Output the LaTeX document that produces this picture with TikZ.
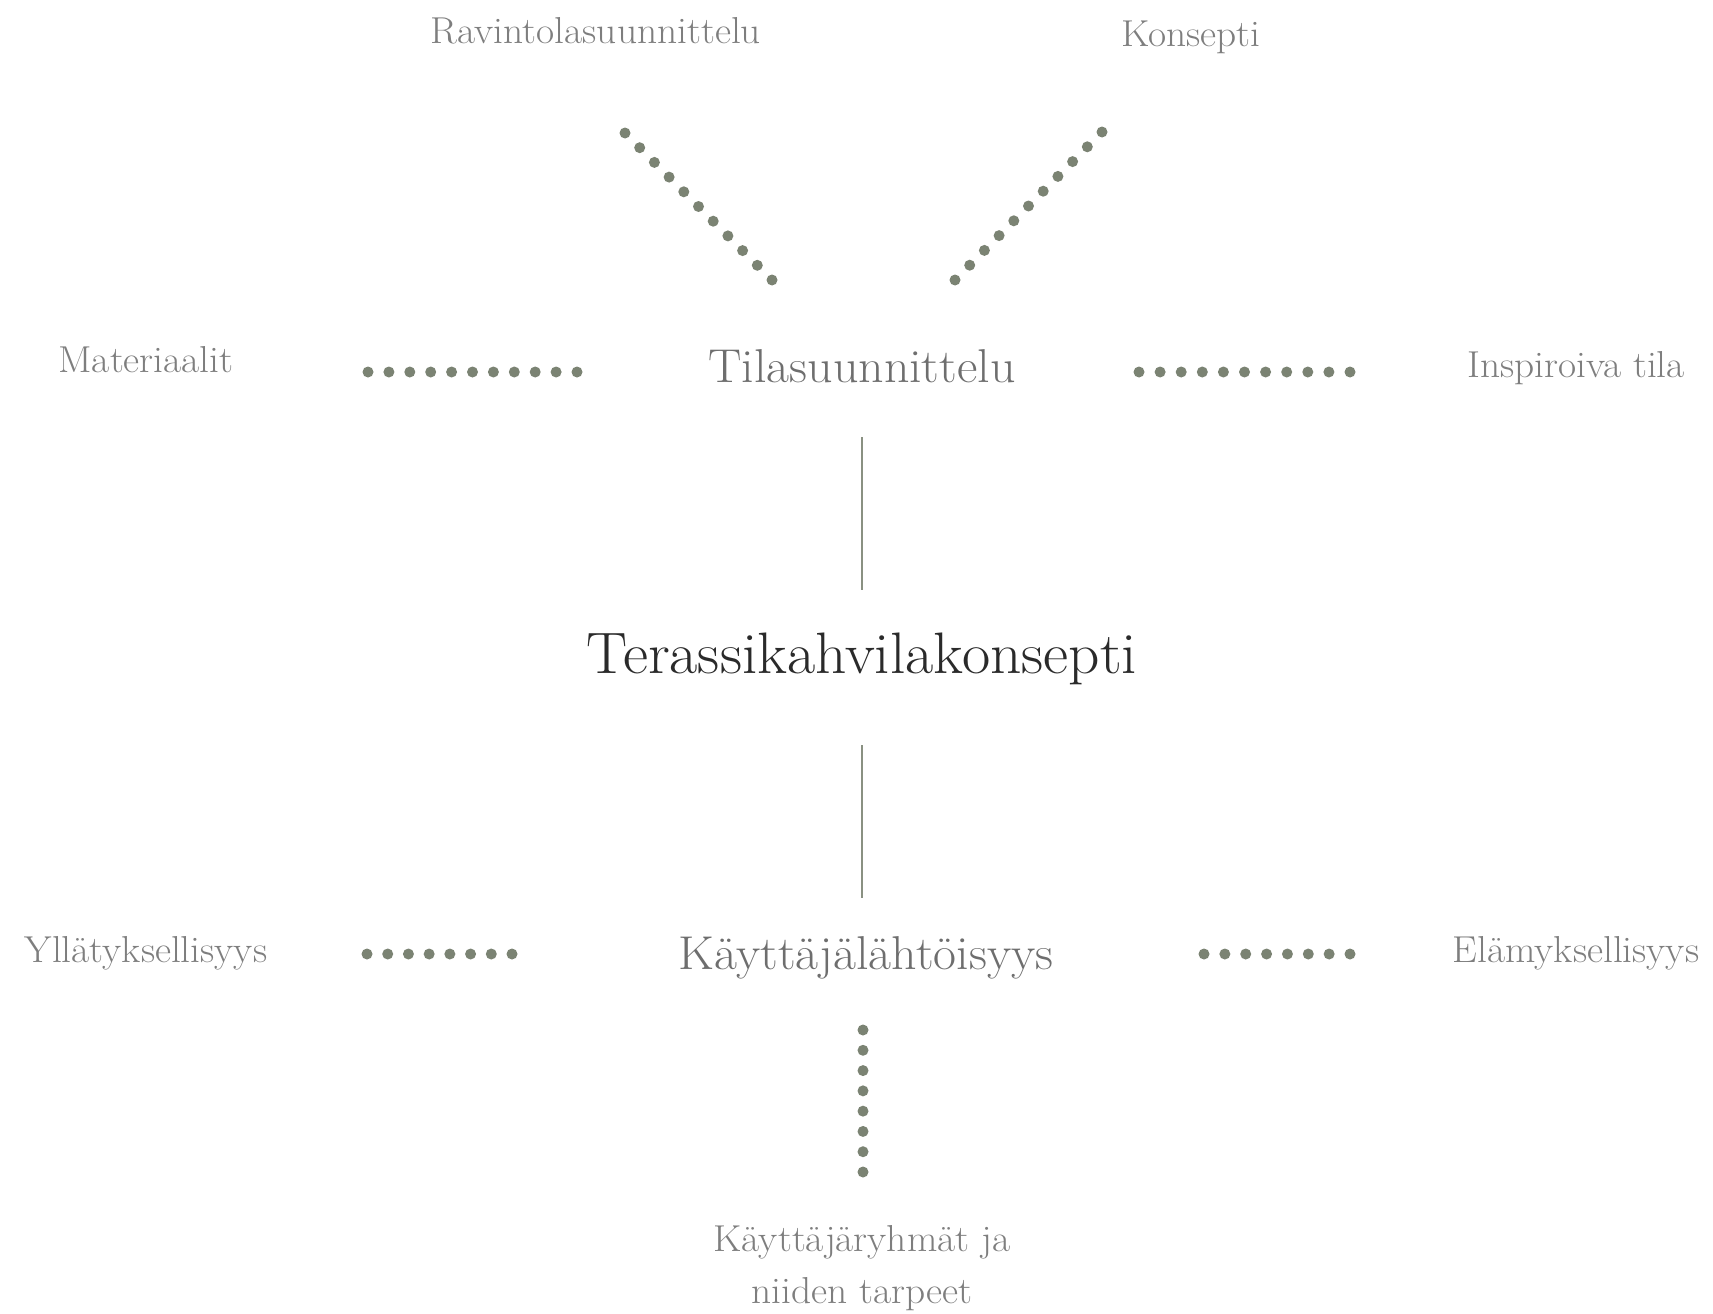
\documentclass[tikz,border=0pt]{standalone}
\usepackage{fontspec}
\setmainfont{Latin Modern Roman}[FakeStretch=1.05]
\usetikzlibrary{calc}
\definecolor{dotc}{HTML}{7B8373}
\definecolor{linec}{HTML}{8A9182}
\definecolor{labc}{HTML}{7E7E7E}
\definecolor{midc}{HTML}{6E6E6E}
\definecolor{mainc}{HTML}{2A2A2A}
\tikzset{
  lab/.style={text=labc, font=\fontsize{37.5}{44}\selectfont, inner sep=0pt, anchor=base},
  sub/.style={text=midc, font=\fontsize{47.5}{54}\selectfont, inner sep=0pt, anchor=base},
  main/.style={text=mainc, font=\fontsize{58.5}{66}\selectfont, inner sep=0pt, anchor=base},
  link/.style={draw=linec, line width=2pt},
}
\newcommand{\dotrow}[3]{%
  \foreach \k in {0,...,#3}{\fill[dotc] ($(#1)!\k/#3!(#2)$) circle (5.5pt);}}
\begin{document}
\begin{tikzpicture}[x=1pt,y=-1pt]
\useasboundingbox (0,0) rectangle (1713,1314);
% labels
\node[lab] (rav) at (596,44) {Ravintolasuunnittelu};
\node[lab] (kon) at (1191,47) {Konsepti};
\node[lab] (mat) at (146,372) {Materiaalit};
\node[lab] (ins) at (1576,377) {Inspiroiva tila};
\node[sub] (tila) at (862,382) {Tilasuunnittelu};
\node[main] (ter) at (862,673) {Terassikahvilakonsepti};
\node[sub] (kay) at (866,969) {Käyttäjälähtöisyys};
\node[lab] (yll) at (146,962) {Yllätyksellisyys};
\node[lab] (ela) at (1576,962) {Elämyksellisyys};
\node[lab] (kr1) at (862,1251) {Käyttäjäryhmät ja};
\node[lab] (kr2) at (862,1303) {niiden tarpeet};
% coordinates for connectors
\coordinate (d1a) at (625,133); \coordinate (d1b) at (772,280);
\coordinate (d2a) at (1102,132); \coordinate (d2b) at (955,280);
\coordinate (d3a) at (368,372); \coordinate (d3b) at (577,372);
\coordinate (d4a) at (1139,372); \coordinate (d4b) at (1350,372);
\coordinate (d5a) at (367,954); \coordinate (d5b) at (512,954);
\coordinate (d6a) at (1204,954); \coordinate (d6b) at (1350,954);
\coordinate (d7a) at (863,1030); \coordinate (d7b) at (863,1172);
\coordinate (l1a) at (862,437); \coordinate (l1b) at (862,590);
\coordinate (l2a) at (862,745); \coordinate (l2b) at (862,898);
% dotted connectors
\dotrow{d1a}{d1b}{10}
\dotrow{d2a}{d2b}{10}
\dotrow{d3a}{d3b}{10}
\dotrow{d4a}{d4b}{10}
\dotrow{d5a}{d5b}{7}
\dotrow{d6a}{d6b}{7}
\dotrow{d7a}{d7b}{7}
% solid connectors
\draw[link] (l1a) -- (l1b);
\draw[link] (l2a) -- (l2b);
\end{tikzpicture}
\end{document}
